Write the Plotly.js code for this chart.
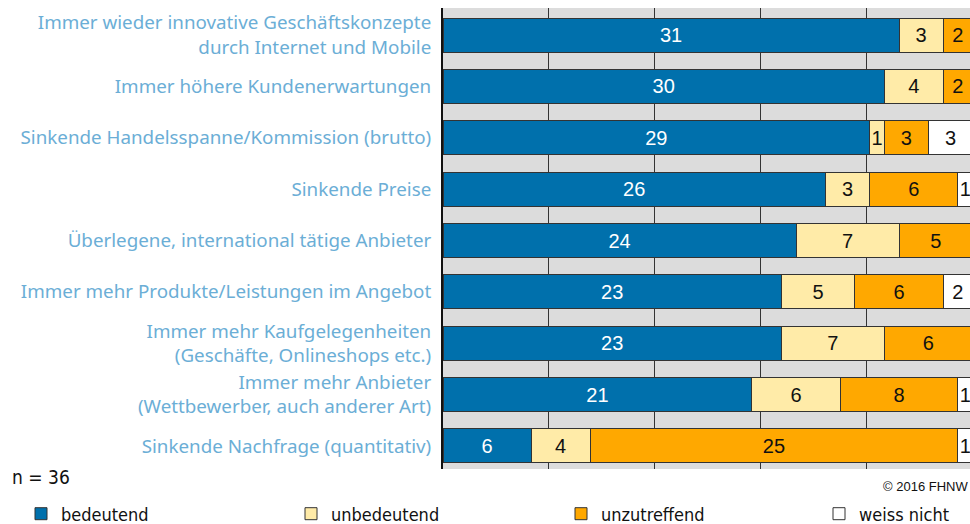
<!DOCTYPE html>
<html>
<head>
<meta charset="utf-8">
<script src="https://cdn.plot.ly/plotly-3.0.1.min.js"></script>
<style>html,body{margin:0;padding:0;background:#fff;}#chart{width:970px;height:524px;}</style>
</head>
<body>
<div id="chart"></div>
<script>
const categories = [
  "Immer wieder innovative Geschäftskonzepte<br>durch Internet und Mobile",
  "Immer höhere Kundenerwartungen",
  "Sinkende Handelsspanne/Kommission (brutto)",
  "Sinkende Preise",
  "Überlegene, international tätige Anbieter",
  "Immer mehr Produkte/Leistungen im Angebot",
  "Immer mehr Kaufgelegenheiten<br>(Geschäfte, Onlineshops etc.)",
  "Immer mehr Anbieter<br>(Wettbewerber, auch anderer Art)",
  "Sinkende Nachfrage (quantitativ)"
];
const seriesNames = ["bedeutend", "unbedeutend", "unzutreffend", "weiss nicht"];
const bedeutend    = [31, 30, 29, 26, 24, 23, 23, 21, 6];
const unbedeutend  = [3, 4, 1, 3, 7, 5, 7, 6, 4];
const unzutreffend = [2, 2, 3, 6, 5, 6, 6, 8, 25];
const weissNicht   = [0, 0, 3, 1, 0, 2, 0, 1, 1];
const nTotal = 36;

const colors = ["#0070AC", "#FFEBA8", "#FFA800", "#FFFFFF"];
const textColors = ["#FFFFFF", "#111111", "#111111", "#111111"];
const allSeries = [bedeutend, unbedeutend, unzutreffend, weissNicht];
const legendIds = ["legend", "legend2", "legend3", "legend4"];

const traces = allSeries.map((vals, i) => ({
  type: "bar",
  orientation: "h",
  name: seriesNames[i],
  legend: legendIds[i],
  y: categories,
  x: vals,
  text: vals.map(v => v ? String(v) : ""),
  textposition: "inside",
  insidetextanchor: "middle",
  constraintext: "none",
  textfont: {family: "Liberation Sans, Arial, sans-serif", size: 20, color: textColors[i]},
  marker: {color: colors[i], line: {color: "#333333", width: 1}},
  hoverinfo: "skip"
}));

const plotL = 443, plotT = 8, plotB = 469;
const plotW = 970 - plotL;
const plotH = plotB - plotT;
const pxPerUnit = 14.71;
const xMax = plotW / pxPerUnit;

const legendFont = {family: "Liberation Sans Narrow, DejaVu Sans Condensed, sans-serif", size: 18, color: "#111"};
const legendStarts = [21, 291, 561, 819];

const layout = {
  width: 970,
  height: 524,
  barmode: "stack",
  bargap: 0.338,
  margin: {l: plotL, r: 0, t: plotT, b: 524 - plotB, autoexpand: false},
  paper_bgcolor: "#FFFFFF",
  plot_bgcolor: "#DCDCDC",
  showlegend: true,
  xaxis: {
    range: [0, xMax],
    tick0: 0,
    dtick: nTotal / 5,
    showgrid: true,
    gridcolor: "#333333",
    gridwidth: 1,
    zeroline: false,
    showticklabels: false,
    ticks: "",
    fixedrange: true
  },
  yaxis: {
    type: "category",
    range: [8.448, -0.526],
    showgrid: false,
    zeroline: false,
    showline: true,
    linecolor: "#111111",
    linewidth: 2,
    ticks: "",
    ticklabelstandoff: 6,
    tickfont: {family: "Noto Sans, sans-serif", size: 18.8, color: "#6BAED6"},
    fixedrange: true
  },
  annotations: [
    {text: "n = " + nTotal, xref: "paper", yref: "paper", x: (10 - plotL) / plotW, y: (plotB - 477) / plotH,
     xanchor: "left", yanchor: "middle", showarrow: false,
     font: {family: "Liberation Sans Narrow, DejaVu Sans Condensed, sans-serif", size: 19, color: "#111"}},
    {text: "© 2016 FHNW", xref: "paper", yref: "paper", x: 1, y: (plotB - 486) / plotH,
     xanchor: "right", yanchor: "middle", showarrow: false,
     font: {family: "Liberation Sans, Arial, sans-serif", size: 13, color: "#111"}}
  ]
};

legendIds.forEach((id, i) => {
  layout[id] = {
    orientation: "h",
    x: (legendStarts[i] - plotL) / plotW, xanchor: "left",
    y: (plotB - 514) / plotH, yanchor: "middle",
    font: legendFont,
    bgcolor: "rgba(0,0,0,0)"
  };
});

Plotly.newPlot("chart", traces, layout, {displayModeBar: false, staticPlot: true});
</script>
</body>
</html>
